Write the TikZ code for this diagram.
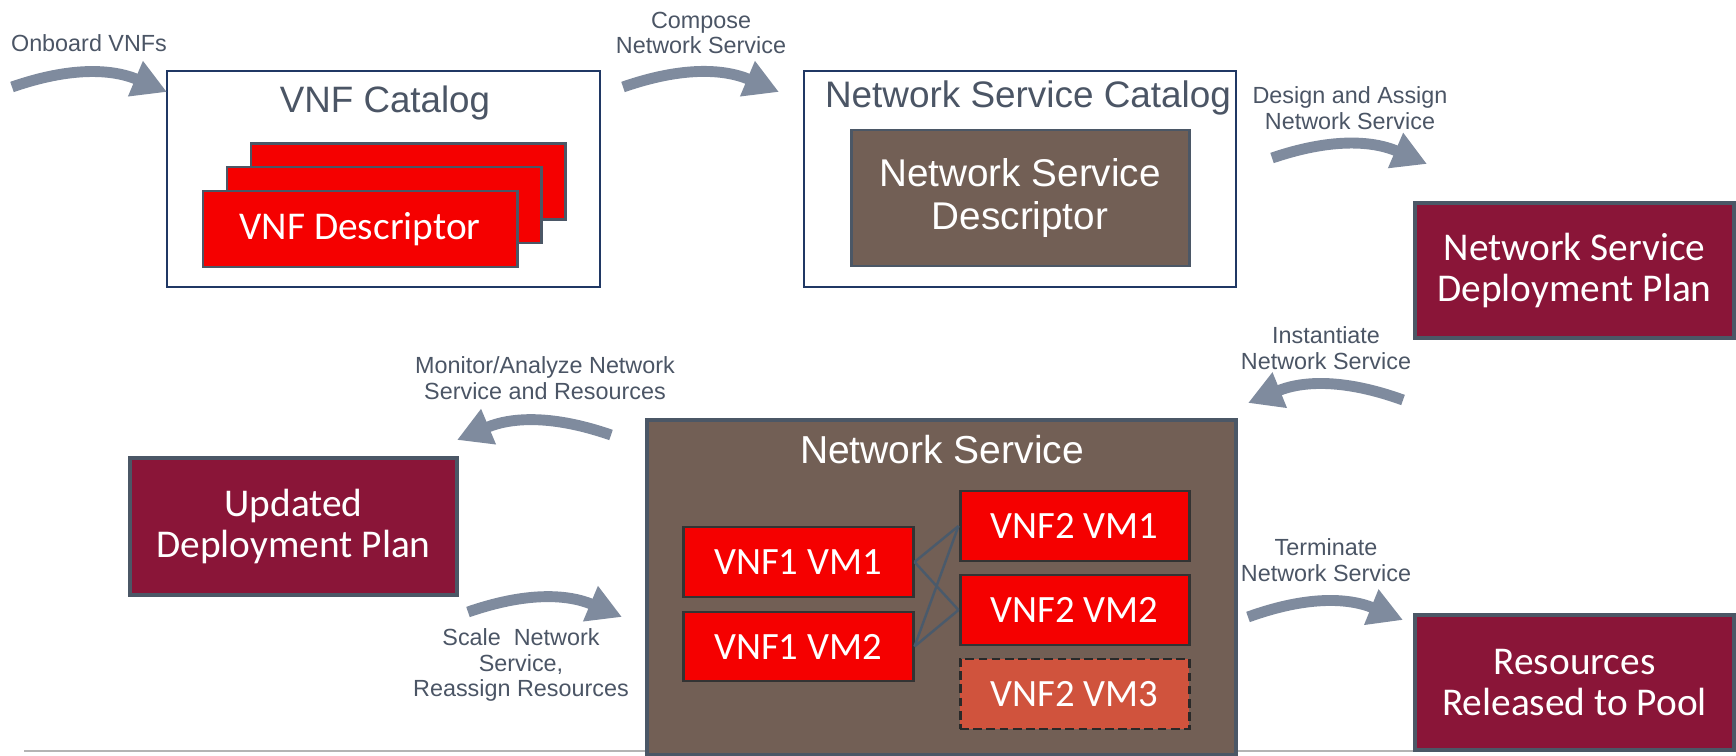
\documentclass[tikz,border=0pt]{standalone}
\usepackage{fontspec}
\setmainfont{Liberation Sans}
\newfontfamily\calfont{Carlito}
\usetikzlibrary{arrows.meta}
\newdimen\pxu \pxu=0.02cm
\definecolor{arrowgray}{HTML}{7F8B9E}
\definecolor{labelgray}{HTML}{4B5565}
\definecolor{navy}{HTML}{203864}
\definecolor{slate}{HTML}{4B5766}
\definecolor{vred}{HTML}{F50000}
\definecolor{brownbox}{HTML}{725F55}
\definecolor{maroon}{HTML}{8A1538}
\definecolor{vmthree}{HTML}{D0533D}
\definecolor{vmborder}{HTML}{333333}
\definecolor{rulegray}{HTML}{B4B4B4}
\definecolor{linkgray}{HTML}{4A5A6B}
\begin{document}
\begin{tikzpicture}[x=0.02cm,y=0.02cm,
  flow/.style={draw=arrowgray, line width=6.2pt, -{Triangle[length=19.5pt,width=20.5pt]}},
  lbl/.style={text=labelgray, align=center, font=\fontsize{13.3}{14.7}\selectfont, inner sep=0pt},
  catalog/.style={draw=navy, line width=1.2pt, fill=white, inner sep=0pt},
  title/.style={text=labelgray, inner sep=0pt, anchor=base},
  desc/.style={draw=slate, line width=1.7pt, fill=vred, inner sep=0pt, text=white,
    font=\calfont\fontsize{22.4}{24}\selectfont, minimum width=314\pxu, minimum height=76\pxu},
  brown/.style={draw=slate, line width=1.7pt, fill=brownbox, inner sep=0pt, text=white, align=center},
  plan/.style={draw=slate, line width=2.3pt, fill=maroon, text=white, align=center,
    font=\calfont\fontsize{22.4}{23.8}\selectfont, inner sep=0pt, minimum width=319\pxu, minimum height=135\pxu},
  vm/.style={draw=vmborder, line width=1.7pt, fill=vred, text=white,
    font=\calfont\fontsize{22}{24}\selectfont, minimum width=229\pxu, minimum height=70\pxu, inner sep=0pt},
  link/.style={draw=linkgray, line width=1.4pt}
]
\useasboundingbox (0,0) rectangle (1736,-756);

% bottom rule
\coordinate (ruleL) at (24,-751);
\coordinate (ruleR) at (1415,-751);
\draw[rulegray, line width=0.9pt] (ruleL) -- (ruleR);

% VNF catalog
\node[catalog, minimum width=433\pxu, minimum height=216\pxu] (vnfcat) at (383.5,-179) {};
\node[title, font=\fontsize{20.9}{22}\selectfont] (vnfcatT) at (385,-113) {VNF Catalog};
\node[desc] (vnfdA) at (408,-181.5) {};
\node[desc] (vnfdB) at (384,-205) {};
\node[desc] (vnfd) at (360,-229) {VNF Descriptor};

% NS catalog
\node[catalog, minimum width=432\pxu, minimum height=216\pxu] (nscat) at (1020,-179) {};
\node[title, font=\fontsize{21}{24}\selectfont] (nscatT) at (1028,-108) {Network Service Catalog};
\node[brown, minimum width=338\pxu, minimum height=136\pxu, font=\fontsize{22}{24.4}\selectfont] (nsd) at (1020,-198) {Network Service\\Descriptor};

% plans
\node[plan] (nsdp) at (1574.5,-270.5) {Network Service\\Deployment Plan};
\node[plan, minimum width=327\pxu, minimum height=137\pxu] (upd) at (293.5,-526.5) {Updated\\Deployment Plan};
\node[plan] (res) at (1574.5,-682.5) {Resources\\Released to Pool};

% network service
\node[brown, line width=1.8pt, minimum width=589\pxu, minimum height=335\pxu] (ns) at (941.5,-587.5) {};
\node[title, text=white, font=\fontsize{22.2}{24}\selectfont] (nsT) at (942,-463) {Network Service};
\node[vm, minimum width=230\pxu] (v1m1) at (798,-562) {VNF1 VM1};
\node[vm, minimum width=230\pxu, minimum height=69\pxu] (v1m2) at (798,-646.5) {VNF1 VM2};
\node[vm] (v2m1) at (1074.5,-526) {VNF2 VM1};
\node[vm] (v2m2) at (1074.5,-610) {VNF2 VM2};
\node[vm, fill=vmthree, draw=vmborder!80!black, dash pattern=on 5pt off 2.5pt] (v2m3) at (1074.5,-694) {VNF2 VM3};
\draw[link] (v1m1.east) -- (v2m1.west);
\draw[link] (v1m1.east) -- (v2m2.west);
\draw[link] (v1m2.east) -- (v2m1.west);
\draw[link] (v1m2.east) -- (v2m2.west);

% flow arrows
\coordinate (a1s) at (12,-87);    \coordinate (a1t) at (167,-92);
\coordinate (a2s) at (623,-87);   \coordinate (a2t) at (779,-92);
\coordinate (a3s) at (1272,-158); \coordinate (a3t) at (1427,-164);
\coordinate (a4s) at (1403,-400); \coordinate (a4t) at (1248,-403);
\coordinate (a5s) at (611,-435);  \coordinate (a5t) at (457,-440);
\coordinate (a6s) at (468,-612);  \coordinate (a6t) at (622,-617);
\coordinate (a7s) at (1248,-617); \coordinate (a7t) at (1403,-620);
\draw[flow] (a1s) to[bend left=21] (a1t);
\draw[flow] (a2s) to[bend left=21] (a2t);
\draw[flow] (a3s) to[bend left=21] (a3t);
\draw[flow] (a4s) to[bend right=21] (a4t);
\draw[flow] (a5s) to[bend right=21] (a5t);
\draw[flow] (a6s) to[bend left=21] (a6t);
\draw[flow] (a7s) to[bend left=21] (a7t);

% labels
\node[lbl] (l1) at (89,-43) {Onboard VNFs};
\node[lbl] (l2) at (701,-33) {Compose\\Network Service};
\node[lbl] (l3) at (1350,-108) {Design and Assign\\Network Service};
\node[lbl] (l4) at (1326,-348) {Instantiate\\Network Service};
\node[lbl] (l5) at (545,-378) {Monitor/Analyze Network\\Service and Resources};
\node[lbl] (l6) at (521,-665) {Scale\ \ Network\\Service,\\Reassign Resources};
\node[lbl] (l7) at (1326,-560) {Terminate\\Network Service};
\end{tikzpicture}
\end{document}
